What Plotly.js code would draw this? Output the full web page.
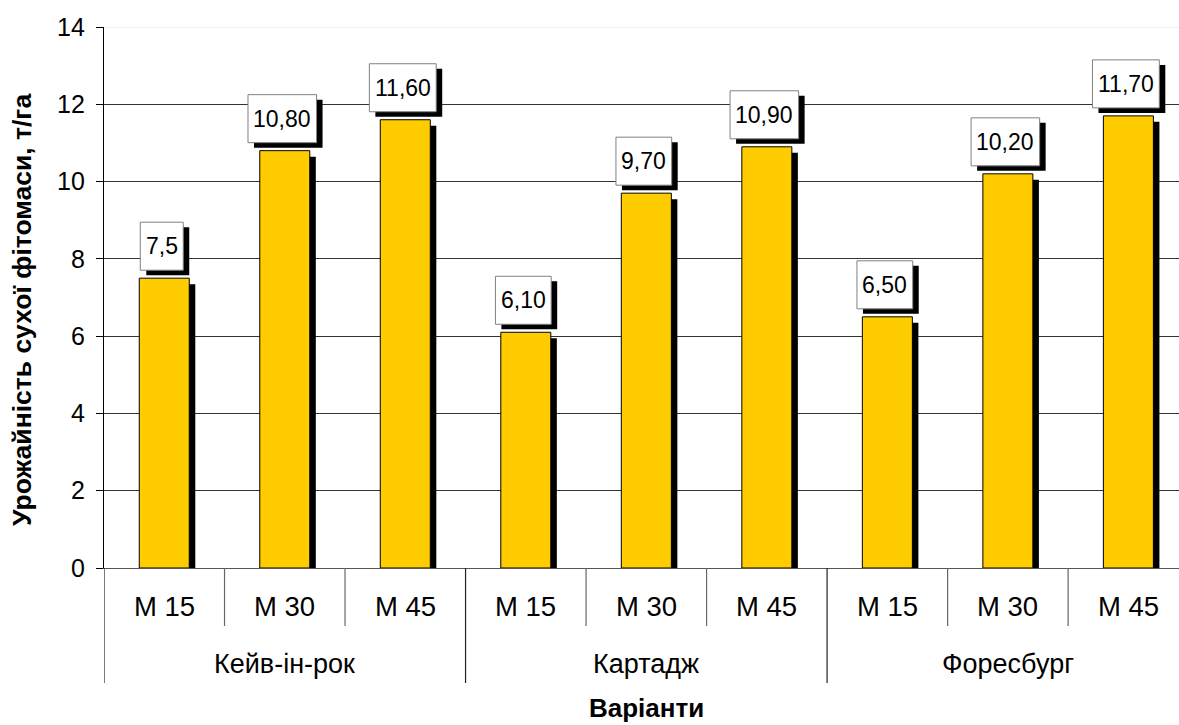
<!DOCTYPE html>
<html><head><meta charset="utf-8">
<script src="https://cdn.plot.ly/plotly-3.0.1.min.js"></script>
<style>html,body{margin:0;padding:0;background:#fff;overflow:hidden}</style>
</head><body><div id="chart" style="width:1179px;height:725px"></div>
<script>
const variants = ['М 15','М 30','М 45','М 15','М 30','М 45','М 15','М 30','М 45'];
const groups = ['Кейв-ін-рок','Картадж','Форесбург'];
const values = [7.5, 10.8, 11.6, 6.1, 9.7, 10.9, 6.5, 10.2, 11.7];
const valueLabels = ['7,5','10,80','11,60','6,10','9,70','10,90','6,50','10,20','11,70'];
const yTicks = [0,2,4,6,8,10,12,14];

const FONT = 'Liberation Sans, Arial, sans-serif';
const LABEL_SIZE = 23;
const xs = values.map((_, i) => i);
const BW = 0.415, SHX = 0.05, SHY = 0.155;

const T = 27, B = 568, H = B - T;
const py = p => (B - p) / H;

const ctx = document.createElement('canvas').getContext('2d');
ctx.font = LABEL_SIZE + 'px "Liberation Sans", Arial, sans-serif';
const textW = s => ctx.measureText(s).width;

const shadow = {
  type: 'bar', x: xs, y: values.map(v => v - SHY), width: BW, offset: -BW/2 + SHX,
  marker: {color: '#000', line: {width: 0}}, hoverinfo: 'skip', showlegend: false
};
const bars = {
  type: 'bar', x: xs, y: values, width: BW, offset: -BW/2,
  marker: {color: '#FFCC00', line: {color: '#000', width: 1}}, showlegend: false
};

const shapes = [];
const annotations = [];
values.forEach((v, i) => {
  const w = textW(valueLabels[i]) + 11;
  const cx = -2.5;
  const base = {type: 'rect', xref: 'x', yref: 'y', xsizemode: 'pixel', ysizemode: 'pixel',
    xanchor: xs[i], yanchor: v, layer: 'above'};
  shapes.push(Object.assign({}, base, {x0: cx - w/2 + 6, x1: cx + w/2 + 6, y0: 3, y1: 51,
    fillcolor: '#000', line: {width: 0}}));
  shapes.push(Object.assign({}, base, {x0: cx - w/2, x1: cx + w/2, y0: 8, y1: 56,
    fillcolor: '#fff', line: {color: '#808080', width: 1}}));
  annotations.push({x: xs[i], y: v, xref: 'x', yref: 'y', xanchor: 'center', yanchor: 'middle',
    xshift: cx, yshift: 32, showarrow: false, text: valueLabels[i],
    font: {family: FONT, size: LABEL_SIZE, color: '#000'}});
});
variants.forEach((t, i) => annotations.push({x: i, y: py(606), xref: 'x', yref: 'paper', text: t,
  showarrow: false, xanchor: 'center', yanchor: 'middle', font: {family: FONT, size: 27.5, color: '#000'}}));
groups.forEach((g, k) => annotations.push({x: k*3 + 1, y: py(664), xref: 'x', yref: 'paper', text: g,
  showarrow: false, xanchor: 'center', yanchor: 'middle', font: {family: FONT, size: 27, color: '#000'}}));
annotations.push({x: 4.0, y: py(708), xref: 'x', yref: 'paper', text: '<b>Варіанти</b>', showarrow: false,
  xanchor: 'center', yanchor: 'middle', font: {family: FONT, size: 26, color: '#000'}});
annotations.push({x: 0, xref: 'paper', xshift: -82, y: py(310), yref: 'paper',
  text: '<b>Урожайність сухої фітомаси, т/га</b>', textangle: -90, showarrow: false,
  xanchor: 'center', yanchor: 'middle', font: {family: FONT, size: 26.5, color: '#000'}});

for (let i = 0; i <= 9; i++) {
  const isGroup = i % 3 === 0;
  shapes.push({type: 'line', xref: 'x', yref: 'paper', x0: i - 0.5, x1: i - 0.5,
    y0: 0, y1: py(isGroup ? 683 : 626), line: {color: isGroup ? '#222' : '#666', width: 1.2}});
}
shapes.push({type: 'line', xref: 'paper', yref: 'y', x0: 0, x1: 1, y0: 14, y1: 14,
  line: {color: '#dddddd', width: 1}, layer: 'above'});

const layout = {
  width: 1179, height: 725,
  margin: {l: 104, r: 0, t: T, b: 725 - B, pad: 0},
  paper_bgcolor: '#fff', plot_bgcolor: '#fff',
  barmode: 'overlay', showlegend: false,
  xaxis: {range: [-0.5, 8.42], showticklabels: false, ticks: '', showgrid: false, zeroline: false,
    showline: true, linecolor: '#555', linewidth: 1.2, fixedrange: true},
  yaxis: {range: [0, 14], tickvals: yTicks, ticktext: yTicks.map(String), ticks: 'outside', ticklen: 7,
    tickcolor: '#000', tickwidth: 1, showline: true, linecolor: '#000', linewidth: 1.2,
    showgrid: true, gridcolor: '#333', gridwidth: 1, zeroline: false,
    tickfont: {family: FONT, size: 25, color: '#000'}, ticklabelstandoff: 6, fixedrange: true},
  annotations: annotations, shapes: shapes
};
Plotly.newPlot('chart', [shadow, bars], layout, {displayModeBar: false, staticPlot: true});
</script></body></html>
